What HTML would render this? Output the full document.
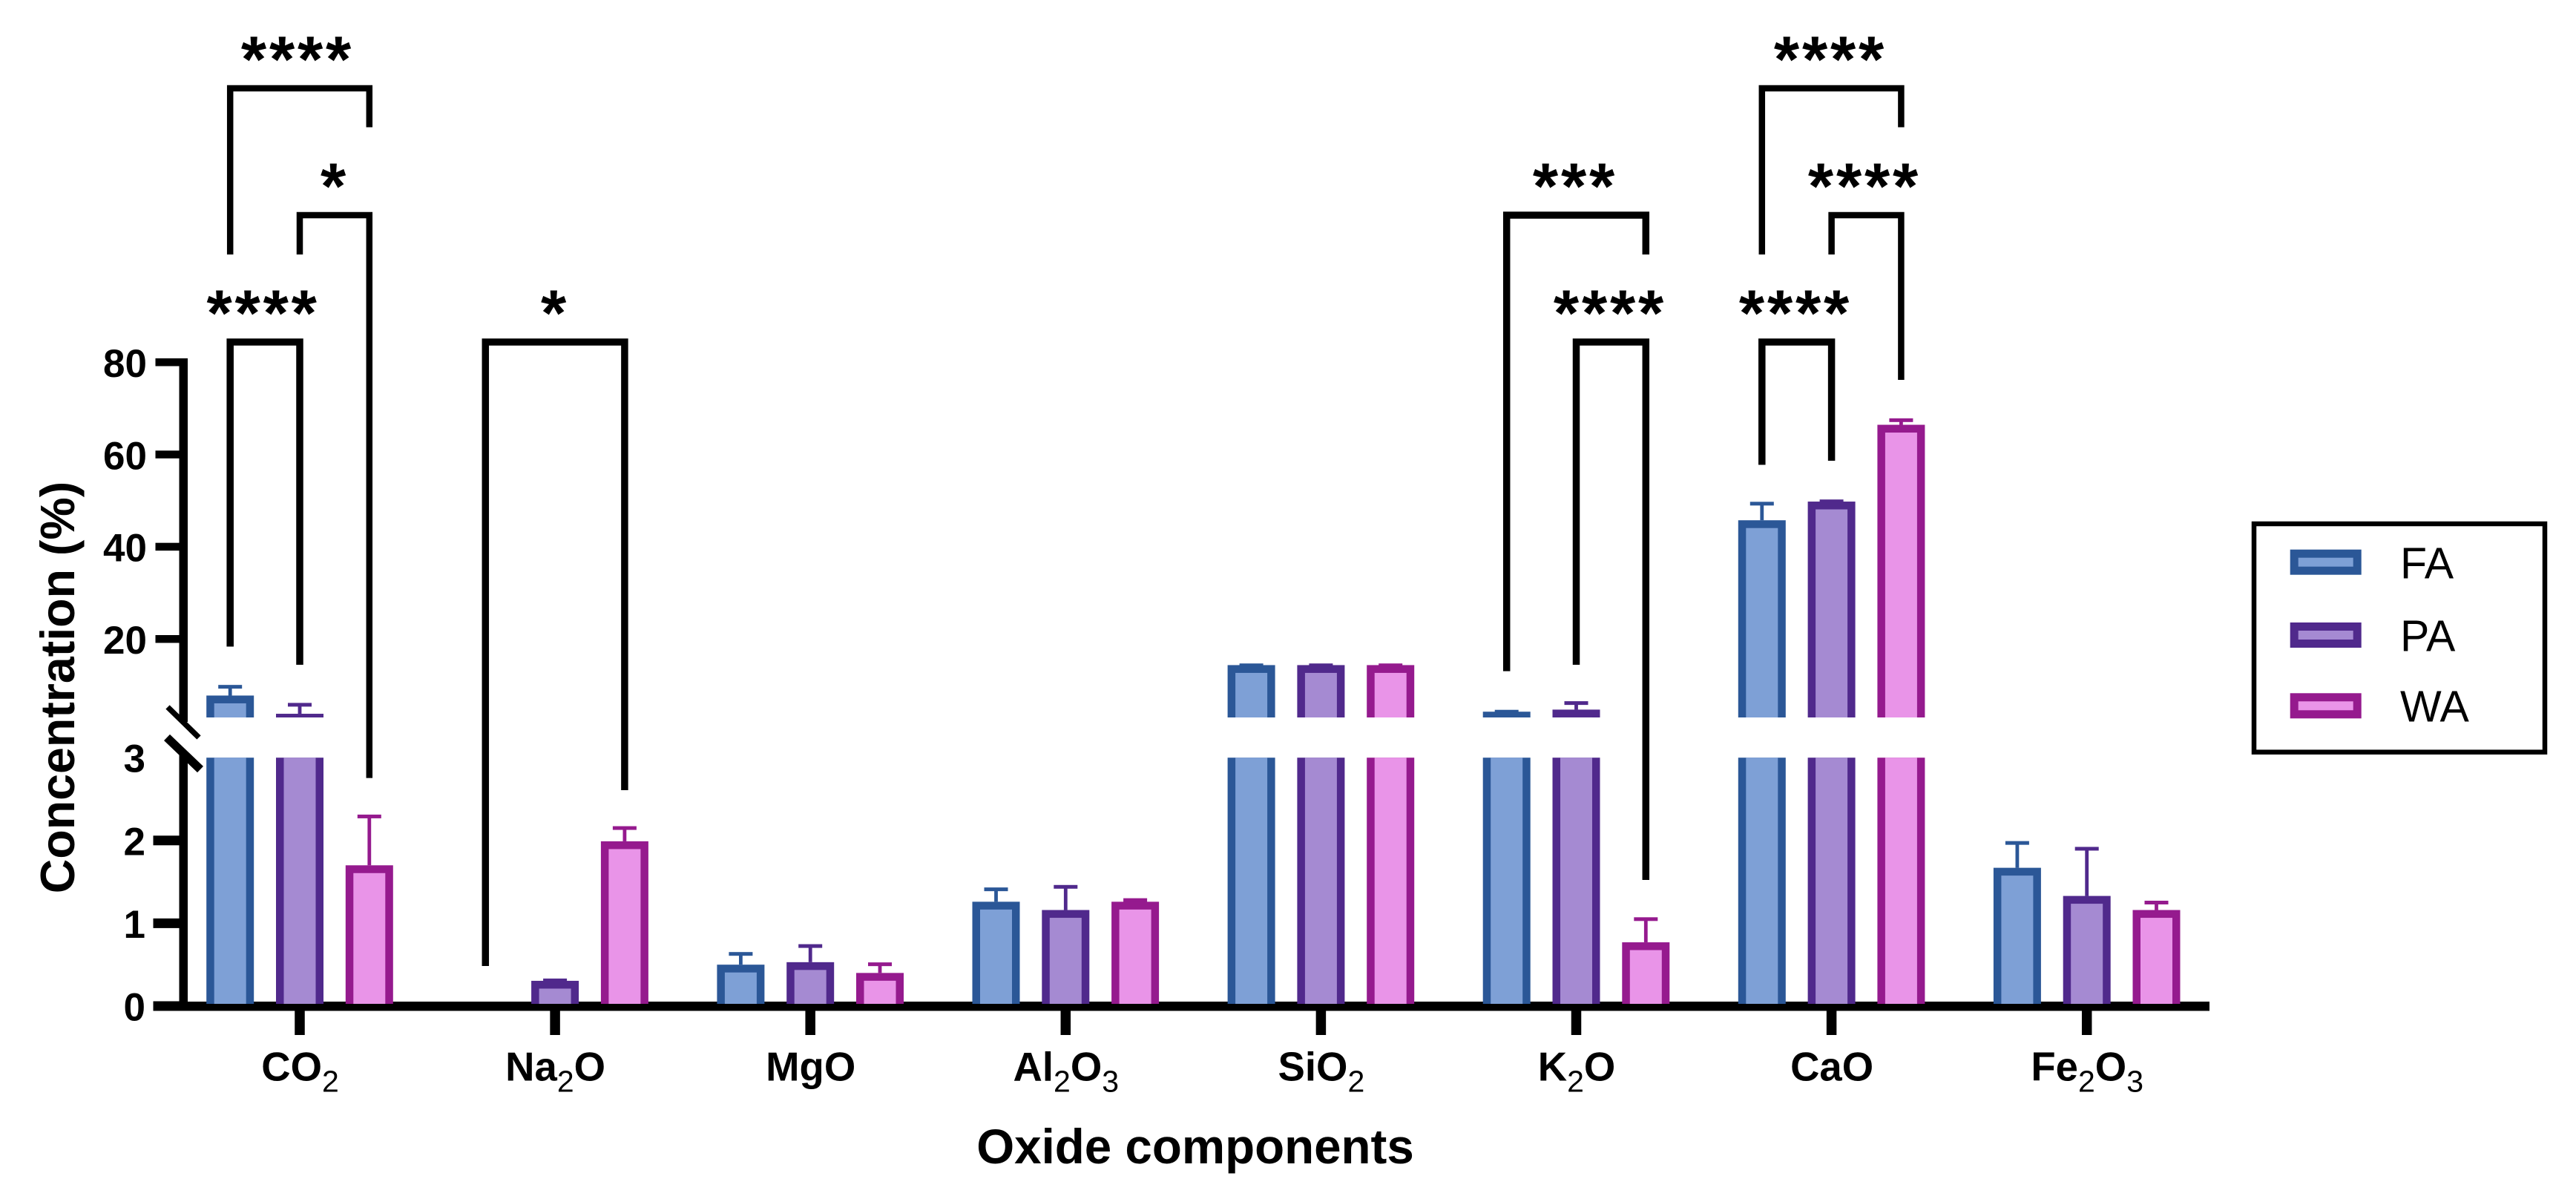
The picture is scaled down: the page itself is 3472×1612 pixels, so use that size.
<!DOCTYPE html>
<html>
<head>
<meta charset="utf-8">
<title>Oxide concentration chart</title>
<style>
html,body{margin:0;padding:0;background:#fff;}
svg{display:block;font-family:"Liberation Sans",Arial,sans-serif;}
</style>
</head>
<body>
<svg id="chart" xmlns="http://www.w3.org/2000/svg" width="3472" height="1612" viewBox="0 0 3472 1612">
<rect x="0" y="0" width="3472" height="1612" fill="#ffffff"/>
<text transform="translate(100,926.5) rotate(-90)" text-anchor="middle" font-size="64.5" font-weight="700" fill="#000">Concentration (%)</text>
<text x="1611" y="1568" text-anchor="middle" font-size="65.5" font-weight="700" fill="#000">Oxide components</text>
<g>
<rect x="3038" y="706" width="392" height="307.7" fill="#fff" stroke="#000" stroke-width="6.5"/>
<g>
<rect x="3092.2" y="746.2" width="85" height="23" fill="#7EA0D6" stroke="#2B5797" stroke-width="11"/>
<text x="3235" y="779.3" font-size="59" fill="#000">FA</text>
</g>
<g>
<rect x="3092.2" y="844.5" width="85" height="23" fill="#A58AD2" stroke="#50298C" stroke-width="11"/>
<text x="3235" y="877.7" font-size="59" fill="#000">PA</text>
</g>
<g>
<rect x="3092.2" y="939.8" width="85" height="23" fill="#E994E8" stroke="#951A8E" stroke-width="11"/>
<text x="3235" y="972.3" font-size="59" fill="#000">WA</text>
</g>
</g>
</svg>
<script>
// ---- data ----
const categories = ['CO2', 'Na2O', 'MgO', 'Al2O3', 'SiO2', 'K2O', 'CaO', 'Fe2O3'];
const seriesNames = ['FA', 'PA', 'WA'];
const faValues = [7.7, 0, 0.50, 1.26, 14.3, 4.2, 45.7, 1.67];
const paValues = [3.75, 0.305, 0.53, 1.16, 14.3, 4.65, 49.75, 1.33];
const waValues = [1.70, 1.99, 0.40, 1.26, 14.3, 0.77, 66.4, 1.16];
const faErrorTops = [9.6, 0, 0.63, 1.41, 14.25, 4.2, 49.3, 1.97];
const paErrorTops = [5.7, 0.31, 0.725, 1.44, 14.25, 6.07, 49.8, 1.90];
const waErrorTops = [2.29, 2.15, 0.505, 1.28, 14.25, 1.05, 67.4, 1.25];
const upperTicks = [20, 40, 60, 80];
const lowerTicks = [0, 1, 2];
const lowerLabels = [0, 1, 2, 3];

const seriesValues = [faValues, paValues, waValues];
const seriesErrors = [faErrorTops, paErrorTops, waErrorTops];
const borderColors = ['#2B5797', '#50298C', '#951A8E'];
const fillColors = ['#7EA0D6', '#A58AD2', '#E994E8'];

// ---- axis functions ----
const SVGNS = 'http://www.w3.org/2000/svg';
const svg = document.getElementById('chart');
const BREAK_VALUE = 3;
const BASE_Y = 1356, LOWER_PX = 111.6, UPPER_REF_Y = 861, UPPER_PX = 6.217;
const UPPER_CUT_Y = 967, LOWER_TOP_Y = BASE_Y - BREAK_VALUE * LOWER_PX;
function yScale(v) {
  if (v <= BREAK_VALUE) return BASE_Y - v * LOWER_PX;
  return UPPER_REF_Y - (v - 20) * UPPER_PX;
}
function groupX(i) { return 404 + i * 344.1; }
function barX(i, s) { return groupX(i) + (s - 1) * 93.8; }

function make(tag, attrs, parent) {
  const el = document.createElementNS(SVGNS, tag);
  for (const k in attrs) el.setAttribute(k, attrs[k]);
  (parent || svg).appendChild(el);
  return el;
}
function slug(s) { return s.toLowerCase(); }

// ---- axes ----
const axes = make('g', {});



const yUpper = make('rect', {x: 241.5, y: yScale(80) - 5, width: 11.5, height: 973 - yScale(80) + 5, fill: '#000'}, axes);



const yLower = make('rect', {x: 241.5, y: 1013, width: 11.5, height: BASE_Y - 1013, fill: '#000'}, axes);



const breakA = make('line', {x1: 226, y1: 953, x2: 268, y2: 994, stroke: '#000', 'stroke-width': 7.5}, axes);



const breakB = make('line', {x1: 225, y1: 994, x2: 270, y2: 1037, stroke: '#000', 'stroke-width': 11.5}, axes);



upperTicks.forEach(function (t) {
  const y = yScale(t);
  const tick = make('rect', {x: 209.5, y: y - 5, width: 33, height: 10.5, fill: '#000'}, axes);
  
  
  const label = make('text', {x: 198, y: y + 20, 'text-anchor': 'end', 'font-size': 53, 'font-weight': 700, fill: '#000'}, axes);
  
  
  label.textContent = t;
});
lowerTicks.forEach(function (t) {
  const y = yScale(t);
  const tick = make('rect', {x: 206.5, y: y - 6.5, width: 36, height: 13, fill: '#000'}, axes);
  
  
});
lowerLabels.forEach(function (t) {
  const label = make('text', {x: 196, y: yScale(t) + 19.5, 'text-anchor': 'end', 'font-size': 53, 'font-weight': 700, fill: '#000'}, axes);
  
  
  label.textContent = t;
});

const xAxis = make('rect', {x: 206.5, y: BASE_Y - 6, width: 2978 - 206.5, height: 12.5, fill: '#000'}, axes);



categories.forEach(function (c, i) {
  const tick = make('rect', {x: groupX(i) - 6.75, y: BASE_Y, width: 13.5, height: 39, fill: '#000'}, axes);
  
  
  const label = make('text', {x: groupX(i) + 0.5, y: 1456.7, 'text-anchor': 'middle', 'font-size': 54.5, 'font-weight': 700, fill: '#000'}, axes);
  
  
  c.split(/(\d)/).filter(Boolean).forEach(function (part) {
    const isSub = /\d/.test(part);
    const span = make('tspan', isSub
      ? {'font-size': 41, 'font-weight': 400, dy: 15}
      : {'font-size': 54.5, 'font-weight': 700, dy: label.childNodes.length ? -15 : 0}, label);
    span.textContent = part;
  });
});

// ---- bars and error bars ----
const BAR_W = 64, BORDER = 10.5;
seriesNames.forEach(function (name, s) {
  const seriesGroup = make('g', {});
  
  
  seriesValues[s].forEach(function (v, i) {
    if (v <= 0) return;
    const cx = barX(i, s), left = cx - BAR_W / 2;
    const top = yScale(v), capY = yScale(seriesErrors[s][i]);
    const g = make('g', {}, seriesGroup);
    
    

    const stem = make('rect', {x: cx - 2.4, y: capY, width: 4.8, height: Math.max(top - capY, 0), fill: borderColors[s]}, g);
    
    
    const cap = make('rect', {x: cx - 16, y: capY - 2.5, width: 32, height: 5, fill: borderColors[s]}, g);
    
    

    if (v > BREAK_VALUE) {
      const upperBorder = make('rect', {x: left, y: top, width: BAR_W, height: Math.max(UPPER_CUT_Y - top, 0), fill: borderColors[s]}, g);
      
      
      const upperFill = make('rect', {x: left + BORDER, y: top + BORDER, width: BAR_W - 2 * BORDER, height: Math.max(UPPER_CUT_Y - top - BORDER, 0), fill: fillColors[s]}, g);
      
      
      const lowerBorder = make('rect', {x: left, y: LOWER_TOP_Y, width: BAR_W, height: BASE_Y - LOWER_TOP_Y - 3, fill: borderColors[s]}, g);
      
      
      const lowerFill = make('rect', {x: left + BORDER, y: LOWER_TOP_Y, width: BAR_W - 2 * BORDER, height: BASE_Y - LOWER_TOP_Y - 3, fill: fillColors[s]}, g);
      
      
    } else {
      const border = make('rect', {x: left, y: top, width: BAR_W, height: BASE_Y - top - 3, fill: borderColors[s]}, g);
      
      
      const fill = make('rect', {x: left + BORDER, y: top + BORDER, width: BAR_W - 2 * BORDER, height: Math.max(BASE_Y - top - BORDER - 3, 0), fill: fillColors[s]}, g);
      
      
    }
  });
});

// ---- significance brackets ----
const bracketLayer = make('g', {});



function bracket(name, group, a, b, topY, leftEnd, rightEnd, stars, starX, lw) {
  const g = make('g', {}, bracketLayer);
  
  
  const xa = barX(group, a), xb = barX(group, b);
  const path = make('path', {
    d: 'M' + xa + ' ' + leftEnd + 'V' + topY + 'H' + xb + 'V' + rightEnd,
    fill: 'none', stroke: '#000', 'stroke-width': lw, 'stroke-linejoin': 'miter'
  }, g);
  
  
  const label = make('text', {x: starX + 2, y: topY - 9, 'text-anchor': 'middle', 'font-size': 88, 'font-weight': 700, 'letter-spacing': 3.8, fill: '#000'}, g);
  
  
  label.textContent = stars;
}
bracket('co2-fa-wa', 0, 0, 2, 119, 343, 171.5, '****', 399, 8.5);
bracket('co2-pa-wa', 0, 1, 2, 290, 343, 1048.6, '*', 449, 8.5);
bracket('co2-fa-pa', 0, 0, 1, 461, 871.5, 896, '****', 352.6, 9.5);
bracket('na2o-fa-wa', 1, 0, 2, 461, 1302, 1065, '*', 746, 9.5);
bracket('k2o-fa-wa', 5, 0, 2, 290, 904.6, 343, '***', 2121, 9.5);
bracket('k2o-pa-wa', 5, 1, 2, 461, 896, 1186, '****', 2168, 9.5);
bracket('cao-fa-wa', 6, 0, 2, 119, 343, 171.5, '****', 2465, 8.5);
bracket('cao-pa-wa', 6, 1, 2, 290, 343, 512, '****', 2511, 8.5);
bracket('cao-fa-pa', 6, 0, 1, 461, 626.5, 621, '****', 2418, 9.5);
</script>
</body>
</html>
